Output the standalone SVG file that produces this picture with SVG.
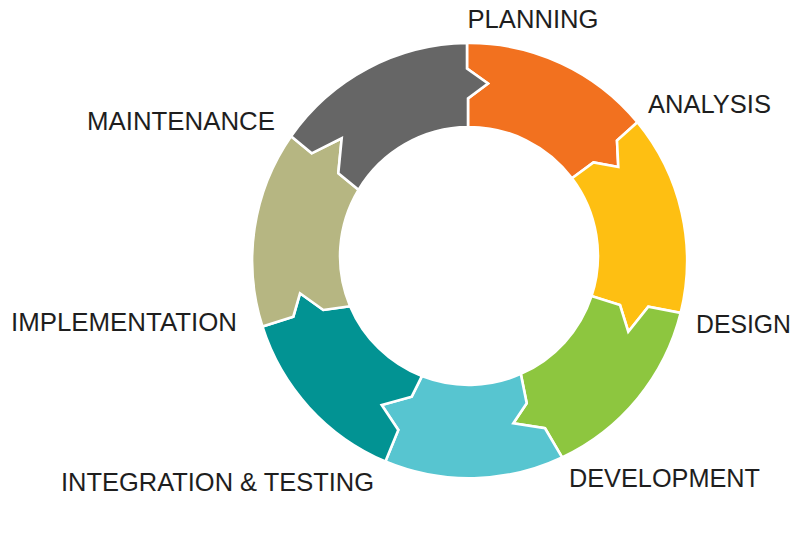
<svg xmlns="http://www.w3.org/2000/svg" width="800" height="533" viewBox="0 0 800 533">
<style>
  .seg { stroke: #ffffff; stroke-width: 2.6; stroke-linejoin: miter; }
  .lbl { font-family: "Liberation Sans", Arial, sans-serif; font-size: 25.5px; fill: #1e1e1e; }
</style>
<rect width="800" height="533" fill="#ffffff"/>
<g id="planning">
  <path class="seg" fill="#F2711F" d="M467,43 A217.5,217.5 0 0 1 637.4,122.2 L617,140.5 L618.3,167 L593.5,162.5 L572,178.3 A129,129 0 0 0 468,127 L468,98.5 L488,83.5 L467,68.5 Z"/>
  <text class="lbl" x="467.5" y="27.5" textLength="131" lengthAdjust="spacingAndGlyphs">PLANNING</text>
</g>
<g id="analysis">
  <path class="seg" fill="#FEBF12" d="M637.4,122.2 A217.5,217.5 0 0 1 680.7,312.9 L648.3,306.7 L628.3,331.7 L620,305 L591.5,296.1 A129,129 0 0 0 572,178.3 L593.5,162.5 L618.3,167 L617,140.5 Z"/>
  <text class="lbl" x="648" y="113" textLength="123" lengthAdjust="spacingAndGlyphs">ANALYSIS</text>
</g>
<g id="design">
  <path class="seg" fill="#8DC63F" d="M680.7,312.9 A217.5,217.5 0 0 1 562.1,457.4 L545,428.3 L513.3,423.3 L526.7,403.3 L520.8,373.9 A129,129 0 0 0 591.5,296.1 L620,305 L628.3,331.7 L648.3,306.7 Z"/>
  <text class="lbl" x="696" y="333" textLength="95" lengthAdjust="spacingAndGlyphs">DESIGN</text>
</g>
<g id="development">
  <path class="seg" fill="#57C5D0" d="M562.1,457.4 A217.5,217.5 0 0 1 385.4,461.5 L398.3,430 L381.7,405 L411.7,396.7 L421.9,376.1 A129,129 0 0 0 520.8,373.9 L526.7,403.3 L513.3,423.3 L545,428.3 Z"/>
  <text class="lbl" x="569" y="487" textLength="191" lengthAdjust="spacingAndGlyphs">DEVELOPMENT</text>
</g>
<g id="integration-testing">
  <path class="seg" fill="#029393" d="M385.4,461.5 A217.5,217.5 0 0 1 262.4,326.5 L293.3,316.7 L300,293.3 L323.3,310 L350.1,306.2 A129,129 0 0 0 421.9,376.1 L411.7,396.7 L381.7,405 L398.3,430 Z"/>
  <text class="lbl" x="61" y="490.5" textLength="313" lengthAdjust="spacingAndGlyphs">INTEGRATION &amp; TESTING</text>
</g>
<g id="implementation">
  <path class="seg" fill="#B6B682" d="M262.4,326.5 A217.5,217.5 0 0 1 291.1,136.2 L311.7,153.3 L341.7,138.3 L338.3,173.3 L358.5,189.8 A129,129 0 0 0 350.1,306.2 L323.3,310 L300,293.3 L293.3,316.7 Z"/>
  <text class="lbl" x="11" y="331" textLength="226" lengthAdjust="spacingAndGlyphs">IMPLEMENTATION</text>
</g>
<g id="maintenance">
  <path class="seg" fill="#666666" d="M291.1,136.2 A217.5,217.5 0 0 1 467,43 L467,68.5 L488,83.5 L468,98.5 L468,127 A129,129 0 0 0 358.5,189.8 L338.3,173.3 L341.7,138.3 L311.7,153.3 Z"/>
  <text class="lbl" x="87" y="130" textLength="188" lengthAdjust="spacingAndGlyphs">MAINTENANCE</text>
</g>
<g id="connectors"></g>
</svg>
